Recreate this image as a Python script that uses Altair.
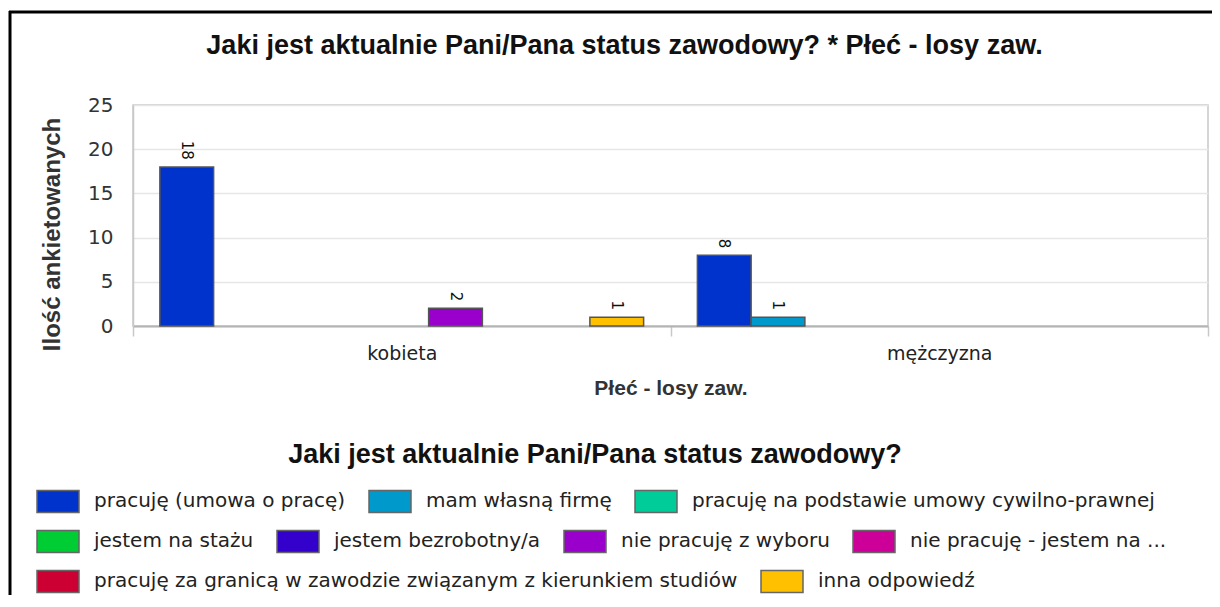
import altair as alt
import pandas as pd

title_text = "Jaki jest aktualnie Pani/Pana status zawodowy? * Płeć - losy zaw."
legend_title = "Jaki jest aktualnie Pani/Pana status zawodowy?"
x_title = "Płeć - losy zaw."
y_title = "Ilość ankietowanych"

genders = ["kobieta", "mężczyzna"]
statuses = [
    "pracuję (umowa o pracę)",
    "mam własną firmę",
    "pracuję na podstawie umowy cywilno-prawnej",
    "jestem na stażu",
    "jestem bezrobotny/a",
    "nie pracuję z wyboru",
    "nie pracuję - jestem na ...",
    "pracuję za granicą w zawodzie związanym z kierunkiem studiów",
    "inna odpowiedź",
]
colors = ["#0033CC", "#0099CC", "#00CC99", "#00CC33", "#3300CC",
          "#9900CC", "#CC0099", "#CC0033", "#FFC000"]
counts_kobieta = [18, 0, 0, 0, 0, 2, 0, 0, 1]
counts_mezczyzna = [8, 1, 0, 0, 0, 0, 0, 0, 0]
legend_rows = [[0, 1, 2], [3, 4, 5, 6], [7, 8]]
y_ticks = [0, 5, 10, 15, 20, 25]

rows = []
for g, vals in zip(genders, [counts_kobieta, counts_mezczyzna]):
    for s, v in zip(statuses, vals):
        rows.append({"plec": g, "status": s, "count": v})
df = pd.DataFrame(rows)

x_enc = alt.X(
    "plec:N", sort=genders,
    scale=alt.Scale(domain=genders, paddingInner=0, paddingOuter=0),
    axis=alt.Axis(
        title=x_title, labelAngle=0, tickBand="extent", ticks=True, tickSize=10,
        tickColor="#c8c8c8", tickWidth=1.5, domainColor="#b4b4b4", domainWidth=2,
        labelFont="DejaVu Sans", labelFontSize=19, labelColor="#222", labelPadding=8,
        titleFont="Liberation Sans", titleFontSize=21, titleFontWeight="bold",
        titleColor="#333", titleY=62, titleBaseline="middle", grid=False,
    ),
)
xo_enc = alt.XOffset("status:N",
                     scale=alt.Scale(domain=statuses, paddingInner=0, paddingOuter=0.5))
y_enc = alt.Y(
    "count:Q", scale=alt.Scale(domain=[0, 25], nice=False),
    axis=alt.Axis(
        values=y_ticks, title=y_title, ticks=False, labelPadding=20,
        labelFont="DejaVu Sans", labelFontSize=20, labelColor="#333",
        domainColor="#c8c8c8", domainWidth=1.5, gridColor="#e6e6e6", gridWidth=1.5,
        titleFont="Liberation Sans", titleFontSize=24, titleFontWeight="bold",
        titleColor="#333", titleX=-81, titleY=129, titleBaseline="middle", titleAngle=270,
    ),
)

legend_common = dict(
    orient="none", direction="horizontal", labelFont="DejaVu Sans", labelFontSize=20,
    labelColor="#222", labelLimit=2000, labelOffset=14, columnPadding=20,
    symbolType="M-1,-0.524H1V0.524H-1Z", symbolSize=1764, symbolStrokeColor="#666",
    symbolStrokeWidth=1.5, symbolOpacity=1, padding=0, legendX=-97,
)
legend_ys = [337, 414, 454]

layers = []
frame_df = pd.DataFrame({"f": [0]})
layers.append(alt.Chart(frame_df).mark_rule(color="black", strokeWidth=3).encode(
    x=alt.value(-123), y=alt.value(-94), y2=alt.value(520)))
layers.append(alt.Chart(frame_df).mark_rule(color="black", strokeWidth=3).encode(
    x=alt.value(-124), x2=alt.value(1090), y=alt.value(-93)))

for i, idxs in enumerate(legend_rows):
    row_st = [statuses[k] for k in idxs]
    row_col = [colors[k] for k in idxs]
    if i == 0:
        leg = alt.Legend(title=legend_title, titleFont="Liberation Sans", titleFontSize=27,
                         titleFontWeight="bold", titleColor="#111", titleAnchor="middle",
                         titleLimit=2000, titlePadding=10, columns=len(idxs),
                         legendY=legend_ys[i], **legend_common)
    else:
        leg = alt.Legend(title=None, columns=len(idxs), legendY=legend_ys[i], **legend_common)
    layers.append(
        alt.Chart(df)
        .transform_filter(alt.FieldOneOfPredicate(field="status", oneOf=row_st))
        .transform_filter("datum.count > 0")
        .mark_bar(stroke="#555555", strokeWidth=1.5)
        .encode(
            x=x_enc, xOffset=xo_enc, y=y_enc,
            color=alt.Color("status:N", scale=alt.Scale(domain=row_st, range=row_col),
                            legend=leg),
        )
    )

layers.append(
    alt.Chart(df)
    .transform_filter("datum.count > 0")
    .mark_text(angle=90, align="right", baseline="middle", dx=-7,
               font="DejaVu Sans", fontSize=15, color="#111")
    .encode(x=x_enc, xOffset=xo_enc, y=y_enc, text="count:Q")
)

chart = (
    alt.layer(*layers)
    .resolve_scale(color="independent")
    .properties(
        width=1075, height=221,
        title=alt.Title(title_text, font="Liberation Sans", fontSize=27, fontWeight="bold",
                        color="#111", anchor="middle", frame="group", dx=-46, dy=50,
                        offset=0),
        autosize=alt.AutoSizeParams(type="none"),
        padding={"left": 125, "top": 97, "right": 4, "bottom": 269},
    )
    .configure_view(stroke="#c8c8c8", strokeWidth=1.5)
)

chart.save("out.html", embed_options={"renderer": "svg", "actions": False})
